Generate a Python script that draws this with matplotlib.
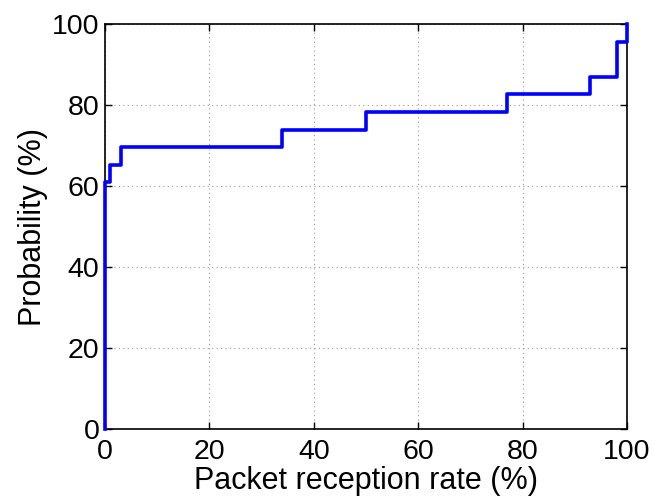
import numpy as np
import matplotlib
matplotlib.use("Agg")
import matplotlib.pyplot as plt

# CDF of packet reception rate (23 links)
rate = [0, 0, 1, 3, 34, 50, 77, 93, 98, 100]
prob = [0, 60.87, 65.22, 69.57, 73.91, 78.26, 82.61, 86.96, 95.65, 100]

plt.rcParams['font.family'] = ['Liberation Sans', 'DejaVu Sans']

fig = plt.figure(figsize=(6.54, 4.97), dpi=100)
ax = fig.add_axes([105/654, 1-429/497, 522/654, 405/497])

ax.step(rate, prob, where='post', color='#0000ff', linewidth=2.6, clip_on=False, zorder=3)

ax.set_xlim(0, 100)
ax.set_ylim(0, 100)
ax.set_xticks(np.arange(0, 101, 20))
ax.set_yticks(np.arange(0, 101, 20))
ax.grid(True, linestyle=(0, (1, 3)), color='#999999', linewidth=0.8)
ax.tick_params(direction='in', length=5, width=1, labelsize=20.5, top=True, right=True)
ax.tick_params(axis='x', pad=7)
ax.tick_params(axis='y', pad=4)
for s in ax.spines.values():
    s.set_linewidth(1.2)

ax.set_xlabel("Packet reception rate (%)", fontsize=22, labelpad=1)
ax.set_ylabel("Probability (%)", fontsize=22, labelpad=3)

fig.savefig("out.png", dpi=100)
